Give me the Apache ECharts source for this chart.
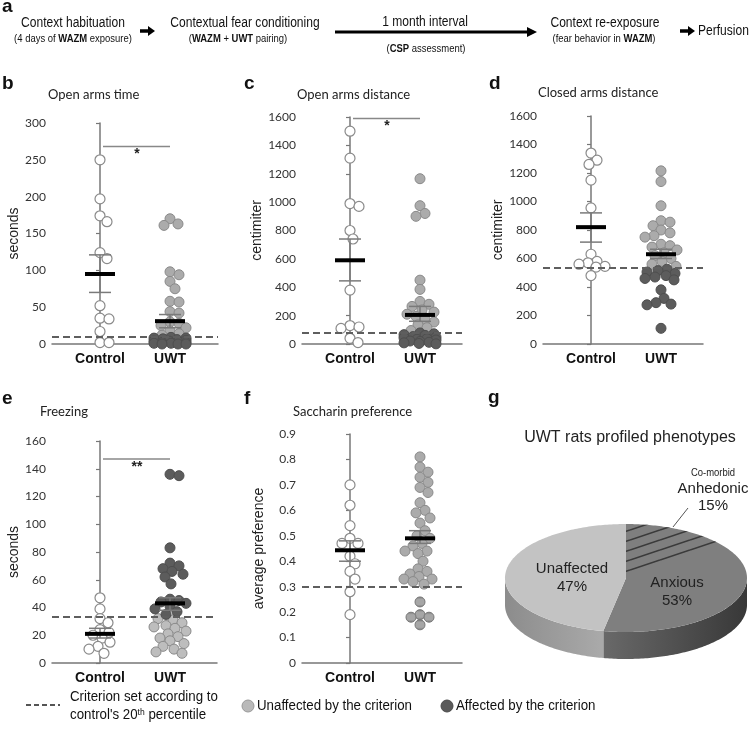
<!DOCTYPE html>
<html>
<head>
<meta charset="utf-8">
<script src="https://cdn.jsdelivr.net/npm/echarts@6/dist/echarts.min.js"></script>
<style>
html, body { margin: 0; padding: 0; background: #fff; }
#chart { width: 750px; height: 732px; }
</style>
</head>
<body>
<div id="chart"></div>
<script>
// ---- data ----
var groups = ['Control', 'UWT'];

// b: open arms time (seconds)
var bControl = [250, 197, 174, 166, 124, 116, 52, 35, 34, 17, 2, 2];
var bUwtOk   = [170, 163, 161, 98, 94, 85, 75, 58, 57, 44, 42, 30, 28, 25, 22, 18, 14, 12];
var bUwtHit  = [9, 8, 8, 7, 6, 5, 4, 4, 3, 2, 2, 1, 1, 0, 0, 0];
var bMean = [95, 31], bSemLo = [70, 22], bSemHi = [121, 40];
var bCriterion = 10;

// c: open arms distance (centimiter)
var cControl = [1500, 1310, 990, 970, 800, 740, 380, 130, 120, 110, 40, 10];
var cUwtOk   = [1165, 975, 920, 900, 450, 385, 300, 280, 265, 240, 225, 210, 195, 175, 155, 135, 115, 95];
var cUwtHit  = [78, 72, 66, 61, 52, 48, 44, 37, 33, 28, 21, 18, 12, 8, 4, 1];
var cMean = [590, 205], cSemLo = [445, 160], cSemHi = [740, 265];
var cCriterion = 80;

// d: closed arms distance (centimiter)
var dControl = [1340, 1290, 1260, 1150, 955, 630, 580, 570, 560, 545, 540, 480];
var dUwtOk   = [1215, 1140, 970, 865, 855, 830, 800, 780, 760, 750, 700, 690, 680, 660, 640, 620, 600, 580, 560, 545];
var dUwtHit  = [525, 515, 505, 495, 480, 470, 460, 450, 380, 320, 290, 280, 275, 110];
var dMean = [820, 630], dSemLo = [715, 600], dSemHi = [920, 665];
var dCriterion = 535;

// e: freezing (seconds)
var eControl = [47, 39, 32, 29, 24, 22, 20, 18, 15, 12, 10, 7];
var eUwtOk   = [32, 31, 29, 27, 26, 25, 23, 21, 19, 18, 16, 14, 12, 10, 8, 7];
var eUwtHit  = [136, 135, 83, 72, 70, 68, 66, 64, 62, 57, 46, 45, 44, 43, 41, 39, 37, 35];
var eMean = [21, 43], eSemLo = [18, 38], eSemHi = [25, 47];
var eCriterion = 33.5;

// f: saccharin preference
var fControl = [0.70, 0.62, 0.54, 0.49, 0.47, 0.47, 0.42, 0.39, 0.36, 0.33, 0.28, 0.19];
var fUwtOk   = [0.81, 0.77, 0.75, 0.73, 0.71, 0.69, 0.67, 0.63, 0.60, 0.59, 0.57, 0.55, 0.52, 0.50, 0.49,
                0.47, 0.46, 0.44, 0.44, 0.43, 0.40, 0.37, 0.36, 0.35, 0.34, 0.33, 0.33, 0.32, 0.31];
var fUwtHit  = [0.24, 0.19, 0.18, 0.18, 0.15];
var fMean = [0.443, 0.49], fSemLo = [0.40, 0.47], fSemHi = [0.48, 0.52];
var fCriterion = 0.30;

// significance marks (value level, text)
var sigB = [268, '*'];
var sigC = [1590, '*'];
var sigE = [147, '**'];

// g: UWT phenotypes (%)
var phenoNames = ['Anxious', 'Unaffected'];
var phenoShares = [53, 47];
var comorbidName = 'Anhedonic';
var comorbidShare = 15;

// ---- layout ----
var panels = [
  { id: 'b', grid: { left: 52, top: 123, width: 166, height: 221 }, max: 300, step: 50, yName: 'seconds', gap: 31,
    ctrl: bControl, ok: bUwtOk, hit: bUwtHit, mean: bMean, lo: bSemLo, hi: bSemHi, crit: bCriterion, sig: sigB },
  { id: 'c', grid: { left: 302, top: 117, width: 160, height: 227 }, max: 1600, step: 200, yName: 'centimiter', gap: 36,
    ctrl: cControl, ok: cUwtOk, hit: cUwtHit, mean: cMean, lo: cSemLo, hi: cSemHi, crit: cCriterion, sig: sigC },
  { id: 'd', grid: { left: 543, top: 116, width: 160, height: 228 }, max: 1600, step: 200, yName: 'centimiter', gap: 37,
    ctrl: dControl, ok: dUwtOk, hit: dUwtHit, mean: dMean, lo: dSemLo, hi: dSemHi, crit: dCriterion },
  { id: 'e', grid: { left: 52, top: 441, width: 165, height: 222 }, max: 160, step: 20, yName: 'seconds', gap: 31,
    ctrl: eControl, ok: eUwtOk, hit: eUwtHit, mean: eMean, lo: eSemLo, hi: eSemHi, crit: eCriterion, sig: sigE, aboveHits: true },
  { id: 'f', grid: { left: 302, top: 434, width: 160, height: 229 }, max: 0.9, step: 0.1, yName: 'average preference', gap: 36,
    ctrl: fControl, ok: fUwtOk, hit: fUwtHit, mean: fMean, lo: fSemLo, hi: fSemHi, crit: fCriterion, striped: true, decimals: 1 }
];

var CTRL_OFF = 48, PX_PER_GROUP = 70, DOT = 10;
var TICK_FONT = 'Lato, "Liberation Sans", sans-serif';
var TEXT_FONT = '"Liberation Sans", Arial, sans-serif';

function stripes(w, h, bg, fg, draw) {
  var cv = document.createElement('canvas');
  cv.width = w; cv.height = h;
  var ctx = cv.getContext('2d');
  if (bg) { ctx.fillStyle = bg; ctx.fillRect(0, 0, w, h); }
  ctx.strokeStyle = fg;
  draw(ctx);
  return { image: cv, repeat: 'repeat' };
}
var dotStripes = stripes(4, 4, '#a6a6a6', '#3e3e3e', function (ctx) {
  ctx.lineWidth = 1.6; ctx.beginPath(); ctx.moveTo(0, 2); ctx.lineTo(4, 2); ctx.stroke();
});
var pieHatch = stripes(30, 10, null, '#3a3a3a', function (ctx) {
  ctx.lineWidth = 1.6;
  [-10, 0, 10].forEach(function (o) {
    ctx.beginPath(); ctx.moveTo(0, 10 + o); ctx.lineTo(30, 0 + o); ctx.stroke();
  });
});

// simple beeswarm: horizontal offsets (px) so dots don't pile up
function swarm(vals, ppu, dia, maxOff) {
  var placed = [], offs = [];
  var order = vals.map(function (v, i) { return i; }).sort(function (a, b) { return vals[b] - vals[a]; });
  order.forEach(function (i) {
    var y = vals[i] * ppu, best = 0, bestCost = Infinity;
    for (var o = 0; o <= maxOff; o++) {
      [o, -o].forEach(function (x) {
        var cost = Math.abs(x) * 0.12;
        placed.forEach(function (p) {
          var d = Math.sqrt((p.x - x) * (p.x - x) + (p.y - y) * (p.y - y));
          if (d < dia) cost += dia - d;
        });
        if (cost < bestCost - 1e-9) { bestCost = cost; best = x; }
      });
    }
    placed.push({ x: best, y: y });
    offs[i] = best;
  });
  return offs;
}

var grids = [], xAxes = [], yAxes = [], series = [], graphics = [];

panels.forEach(function (p, k) {
  grids.push(p.grid);
  xAxes.push({
    type: 'value', gridIndex: k,
    min: -CTRL_OFF / PX_PER_GROUP, max: (p.grid.width - CTRL_OFF) / PX_PER_GROUP,
    axisLine: { show: true, lineStyle: { color: '#777', width: 1.5 } },
    axisTick: { show: false }, splitLine: { show: false },
    axisLabel: {
      customValues: [0, 1], margin: 8,
      formatter: function (v) { return groups[Math.round(v)]; },
      color: '#111', fontWeight: 'bold', fontSize: 14, fontFamily: TEXT_FONT
    }
  });
  yAxes.push({
    type: 'value', gridIndex: k, min: 0, max: p.max, interval: p.step,
    name: p.yName, nameLocation: 'middle', nameGap: p.gap,
    nameTextStyle: { fontSize: 14, color: '#222', fontFamily: TEXT_FONT },
    axisLine: { show: true, lineStyle: { color: '#777', width: 1.5 } },
    axisTick: { show: true, length: 4, lineStyle: { color: '#777', width: 1.2 } },
    splitLine: { show: false },
    axisLabel: {
      margin: 6, fontSize: 12, color: '#333', fontFamily: TICK_FONT,
      formatter: function (v) { return p.decimals && v !== 0 ? v.toFixed(p.decimals) : String(Math.round(v)); }
    }
  });

  var ppu = p.grid.height / p.max;
  function pts(vals, g, offs) {
    return vals.map(function (v, i) { return [g + offs[i] / PX_PER_GROUP, v]; });
  }
  var cOffs = swarm(p.ctrl, ppu, DOT * 0.9, 14);
  var uAll = p.ok.concat(p.hit);
  var uOffs = swarm(uAll, ppu, DOT * 0.9, 16);
  var okOffs = uOffs.slice(0, p.ok.length), hitOffs = uOffs.slice(p.ok.length);

  var okFill = p.aboveHits ? '#bdbdbd' : '#ababab';
  series.push({
    type: 'scatter', xAxisIndex: k, yAxisIndex: k, symbolSize: DOT, z: 2,
    itemStyle: { color: '#fff', borderColor: '#8a8a8a', borderWidth: 1.2, opacity: 1 },
    data: pts(p.ctrl, 0, cOffs)
  });
  series.push({
    type: 'scatter', xAxisIndex: k, yAxisIndex: k, symbolSize: DOT, z: 2,
    itemStyle: { color: okFill, borderColor: '#8a8a8a', borderWidth: 1, opacity: 1 },
    data: pts(p.ok, 1, okOffs)
  });
  series.push({
    type: 'scatter', xAxisIndex: k, yAxisIndex: k, symbolSize: DOT, z: 2,
    itemStyle: p.striped
      ? { color: dotStripes, borderColor: '#777', borderWidth: 1, opacity: 1 }
      : { color: '#5c5c5c', borderColor: '#4e4e4e', borderWidth: 1, opacity: 1 },
    data: pts(p.hit, 1, hitOffs)
  });
  // criterion line
  series.push({
    type: 'scatter', xAxisIndex: k, yAxisIndex: k, data: [], z: 3, silent: true,
    markLine: {
      silent: true, symbol: 'none', animation: false, label: { show: false },
      lineStyle: { type: [7, 4], color: '#5e5e5e', width: 2 },
      data: [{ yAxis: p.crit }]
    }
  });
  // mean + SEM
  series.push({
    type: 'custom', xAxisIndex: k, yAxisIndex: k, z: 4, silent: true,
    data: [0, 1].map(function (g) { return [g, p.mean[g], p.lo[g], p.hi[g]]; }),
    renderItem: function (params, api) {
      var pm = api.coord([api.value(0), api.value(1)]);
      var pl = api.coord([api.value(0), api.value(2)]);
      var ph = api.coord([api.value(0), api.value(3)]);
      var gray = { stroke: '#7a7a7a', lineWidth: 1.5 };
      return {
        type: 'group', children: [
          { type: 'line', shape: { x1: pm[0], y1: pl[1], x2: pm[0], y2: ph[1] }, style: gray },
          { type: 'line', shape: { x1: pm[0] - 11, y1: pl[1], x2: pm[0] + 11, y2: pl[1] }, style: gray },
          { type: 'line', shape: { x1: pm[0] - 11, y1: ph[1], x2: pm[0] + 11, y2: ph[1] }, style: gray },
          { type: 'line', shape: { x1: pm[0] - 15, y1: pm[1], x2: pm[0] + 15, y2: pm[1] }, style: { stroke: '#000', lineWidth: 4 } }
        ]
      };
    }
  });
  // significance bar
  if (p.sig) {
    series.push({
      type: 'custom', xAxisIndex: k, yAxisIndex: k, z: 4, silent: true,
      data: [[0, 1, p.sig[0]]],
      renderItem: function (params, api) {
        var a = api.coord([api.value(0), api.value(2)]);
        var b = api.coord([api.value(1), api.value(2)]);
        return {
          type: 'group', children: [
            { type: 'line', shape: { x1: a[0] + 3, y1: a[1], x2: b[0], y2: b[1] }, style: { stroke: '#888', lineWidth: 1.5 } },
            { type: 'text', style: { text: p.sig[1], x: (a[0] + b[0]) / 2 + 2, y: a[1] + 1, align: 'center', verticalAlign: 'top',
              fill: '#222', font: 'bold 14px ' + TEXT_FONT } }
          ]
        };
      }
    });
  }
});

// ---- g: 3D-looking pie ----
var PIE = { cx: 626, cy: 578, rx: 121, ry: 54, h: 27 };
function ePt(a, dy) { return [PIE.cx + PIE.rx * Math.sin(a), PIE.cy + dy - PIE.ry * Math.cos(a)]; }
function arcPts(a0, a1, dy) {
  var n = Math.max(2, Math.ceil((a1 - a0) / (Math.PI / 180))), out = [];
  for (var i = 0; i <= n; i++) out.push(ePt(a0 + (a1 - a0) * i / n, dy));
  return out;
}
var pieData = [];
var acc = 0;
phenoShares.forEach(function (s, i) { pieData.push([acc, acc + s, i]); acc += s; });
pieData.push([0, comorbidShare, 2]);

var topFill = ['#7f7f7f', '#c3c3c3', pieHatch];
var sideFill = [
  new echarts.graphic.LinearGradient(600, 0, 747, 0, [{ offset: 0, color: '#6a6a6a' }, { offset: 1, color: '#383838' }], true),
  new echarts.graphic.LinearGradient(505, 0, 600, 0, [{ offset: 0, color: '#8c8c8c' }, { offset: 1, color: '#a9a9a9' }], true)
];
series.push({
  type: 'custom', coordinateSystem: 'none', silent: true, z: 2,
  data: pieData,
  renderItem: function (params, api) {
    var a0 = api.value(0) / 100 * 2 * Math.PI, a1 = api.value(1) / 100 * 2 * Math.PI, kind = api.value(2);
    var children = [];
    if (kind < 2) {
      var s = Math.max(a0, Math.PI / 2), e = Math.min(a1, Math.PI * 1.5);
      if (s < e) {
        var side = arcPts(s, e, 0).concat(arcPts(s, e, PIE.h).reverse());
        children.push({ type: 'polygon', shape: { points: side }, style: { fill: sideFill[kind] } });
      }
    }
    var top = [[PIE.cx, PIE.cy]].concat(arcPts(a0, a1, 0));
    children.push({ type: 'polygon', shape: { points: top }, style: { fill: topFill[kind] } });
    return { type: 'group', children: children };
  }
});

// ---- text, panel a, legends ----
function T(x, y, text, font, extra) {
  var st = { text: text, x: x, y: y, font: font, fill: '#111', align: 'left', verticalAlign: 'middle' };
  var el = { type: 'text', silent: true, z: 20, style: st };
  for (var k in extra) {
    if (k === 'scaleX') { el.scaleX = extra[k]; el.originX = x; el.originY = y; }
    else st[k] = extra[k];
  }
  return el;
}
function arrow(x1, x2, y, lw, hl, hw) {
  return {
    type: 'group', silent: true, z: 20, children: [
      { type: 'line', shape: { x1: x1, y1: y, x2: x2 - hl + 1, y2: y }, style: { stroke: '#000', lineWidth: lw } },
      { type: 'polygon', shape: { points: [[x2 - hl, y - hw], [x2, y], [x2 - hl, y + hw]] }, style: { fill: '#000' } }
    ]
  };
}
var NX = 0.86; // narrow look for the timeline row
var LX = 0.95; // legend text
var richB = { b: { font: 'bold 11px ' + TEXT_FONT, fill: '#111' } };
var subFont = '11px ' + TEXT_FONT, mainFont = '14px ' + TEXT_FONT;

[['a', 2, 7], ['b', 2, 84], ['c', 244, 84], ['d', 489, 84], ['e', 2, 399], ['f', 244, 399], ['g', 488, 398]].forEach(function (l) {
  graphics.push(T(l[1], l[2], l[0], 'bold 19px ' + TEXT_FONT));
});
[['Open arms time', 48, 95], ['Open arms distance', 297, 95], ['Closed arms distance', 538, 93],
 ['Freezing', 40, 412], ['Saccharin preference', 293, 412]].forEach(function (t) {
  graphics.push(T(t[1], t[2], t[0], '13px ' + TICK_FONT, { fill: '#222' }));
});

graphics.push(T(73, 23, 'Context habituation', mainFont, { align: 'center', scaleX: NX }));
graphics.push(T(73, 39, '(4 days of {b|WAZM} exposure)', subFont, { align: 'center', rich: richB, scaleX: NX }));
graphics.push(arrow(140, 155, 31, 3.5, 7, 5));
graphics.push(T(245, 23, 'Contextual fear conditioning', mainFont, { align: 'center', scaleX: NX }));
graphics.push(T(238, 39, '({b|WAZM} + {b|UWT} pairing)', subFont, { align: 'center', rich: richB, scaleX: NX }));
graphics.push(arrow(335, 537, 32, 3, 10, 5));
graphics.push(T(425, 22, '1 month interval', mainFont, { align: 'center', scaleX: NX }));
graphics.push(T(426, 49, '({b|CSP} assessment)', subFont, { align: 'center', rich: richB, scaleX: NX }));
graphics.push(T(605, 23, 'Context re-exposure', mainFont, { align: 'center', scaleX: NX }));
graphics.push(T(604, 39, '(fear behavior in {b|WAZM})', subFont, { align: 'center', rich: richB, scaleX: NX }));
graphics.push(arrow(680, 695, 31, 3.5, 7, 5));
graphics.push(T(698, 31, 'Perfusion', mainFont, { scaleX: NX }));

// pie title + labels
graphics.push(T(630, 438, 'UWT rats profiled phenotypes', '16px ' + TEXT_FONT, { align: 'center', fill: '#222' }));
graphics.push(T(572, 578, phenoNames[1] + '\n' + phenoShares[1] + '%', '15px ' + TEXT_FONT, { align: 'center', lineHeight: 18, fill: '#222' }));
graphics.push(T(677, 592, phenoNames[0] + '\n' + phenoShares[0] + '%', '15px ' + TEXT_FONT, { align: 'center', lineHeight: 18, fill: '#222' }));
graphics.push(T(713, 473, 'Co-morbid', '11px ' + TEXT_FONT, { align: 'center', fill: '#222', scaleX: NX }));
graphics.push(T(713, 497, comorbidName + '\n' + comorbidShare + '%', '15px ' + TEXT_FONT, { align: 'center', lineHeight: 17, fill: '#222' }));
graphics.push({ type: 'line', silent: true, z: 20, shape: { x1: 673, y1: 527, x2: 688, y2: 508 }, style: { stroke: '#555', lineWidth: 1 } });

// legend
graphics.push({ type: 'line', silent: true, z: 20, shape: { x1: 26, y1: 705, x2: 60, y2: 705 }, style: { stroke: '#555', lineWidth: 2, lineDash: [5, 3] } });
graphics.push(T(70, 697, 'Criterion set according to', '14px ' + TEXT_FONT, { scaleX: LX }));
graphics.push(T(70, 715, "control's 20{s|th} percentile", '14px ' + TEXT_FONT, { scaleX: LX, rich: { s: { font: '9px ' + TEXT_FONT, verticalAlign: 'top', fill: '#111' } } }));
graphics.push({ type: 'circle', silent: true, z: 20, shape: { cx: 248, cy: 706, r: 6 }, style: { fill: '#b9b9b9', stroke: '#999', lineWidth: 1 } });
graphics.push(T(257, 706, 'Unaffected by the criterion', '14px ' + TEXT_FONT, { scaleX: LX }));
graphics.push({ type: 'circle', silent: true, z: 20, shape: { cx: 447, cy: 706, r: 6 }, style: { fill: '#5a5a5a', stroke: '#4a4a4a', lineWidth: 1 } });
graphics.push(T(456, 706, 'Affected by the criterion', '14px ' + TEXT_FONT, { scaleX: LX }));

var chart = echarts.init(document.getElementById('chart'), null, { renderer: 'canvas' });
chart.setOption({
  animation: false,
  backgroundColor: '#fff',
  grid: grids,
  xAxis: xAxes,
  yAxis: yAxes,
  series: series,
  graphic: graphics
});
</script>
</body>
</html>
